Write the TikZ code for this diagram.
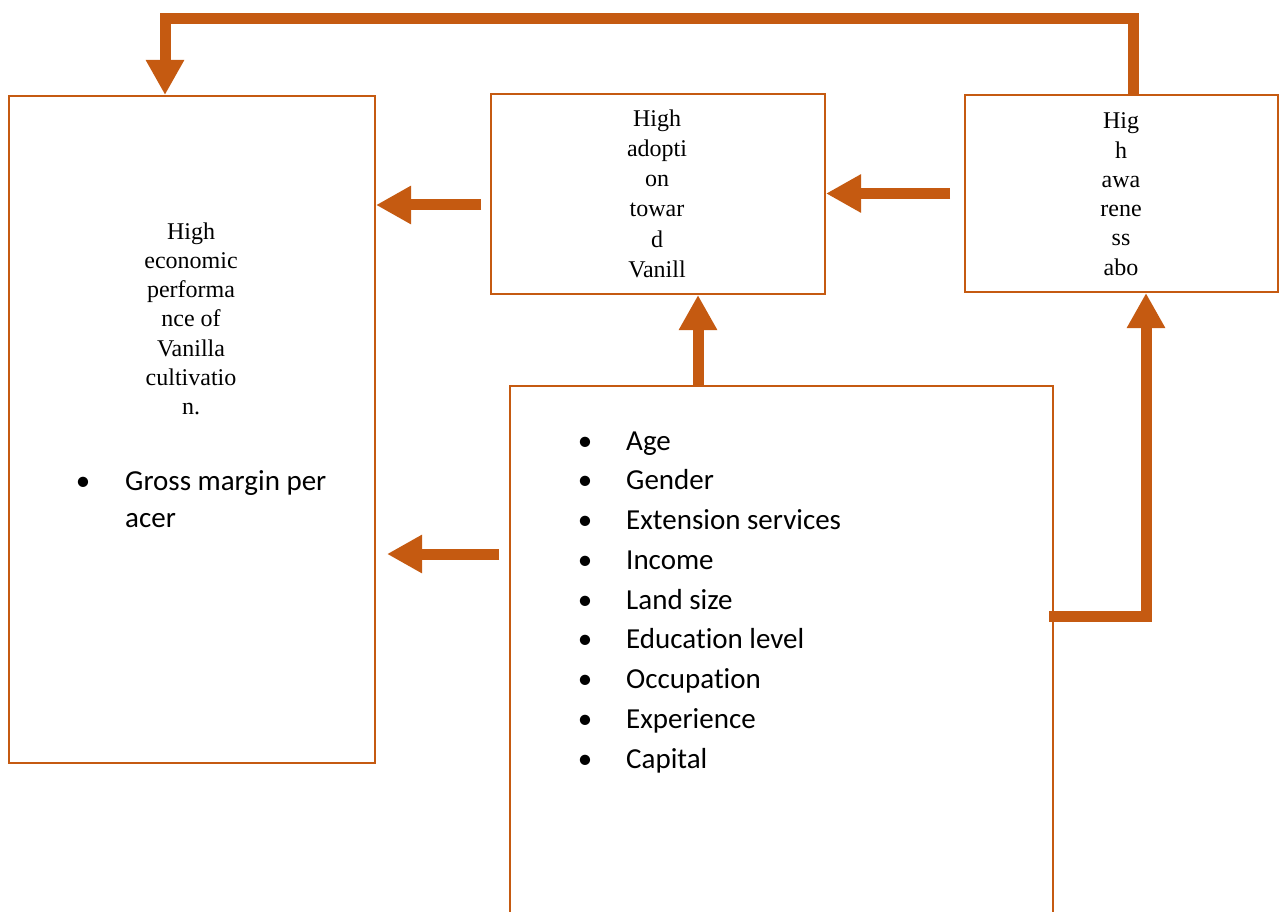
\documentclass[tikz,border=0pt]{standalone}
\usepackage{fontspec}
\setmainfont{Liberation Serif}
\newfontfamily\calfont[Ligatures={NoCommon}]{Carlito}
\usetikzlibrary{arrows.meta,calc}
\definecolor{rust}{HTML}{C55A11}
\tikzset{
  box/.style={draw=rust, line width=2pt, inner sep=0pt, anchor=north west},
  arr/.style={draw=rust, line width=11pt, line join=miter, -{Triangle[width=36pt,length=35pt]}},
  serif/.style={font=\fontsize{24}{29}\selectfont, inner sep=0pt, anchor=base},
  sans/.style={font=\calfont\fontsize{29}{39}\selectfont, inner sep=0pt, anchor=base west},
  bul/.style={font=\calfont\fontsize{29}{39}\selectfont, inner sep=0pt, anchor=base},
}
\begin{document}
\begin{tikzpicture}[x=1pt,y=-1pt]
\clip (0,0) rectangle (1279,912);
\fill[white] (0,0) rectangle (1279,912);
% boxes
\node[box, minimum width=366pt, minimum height=667pt] (econ) at (8,95) {};
\node[box, minimum width=334pt, minimum height=200pt] (adopt) at (490,93) {};
\node[box, minimum width=313pt, minimum height=197pt] (aware) at (964,94) {};
\node[box, minimum width=543pt, minimum height=600pt] (factors) at (509,385) {};
% texts
\foreach \t [count=\i from 0] in {High,economic,performa,nce of,Vanilla,cultivatio,n.}
  \node[serif] (et\i) at (191,{239+29.3*\i}) {\t};
\node[bul] (eb) at (83,490) {\textbullet};
\node[sans] (eg1) at (125,490) {Gross margin per};
\node[sans] (eg2) at (125,527) {acer};
\foreach \t [count=\i from 0] in {High,adopti,on,towar,d,Vanill}
  \node[serif] (at\i) at (657,{127+30*\i}) {\t};
\foreach \t [count=\i from 0] in {Hig,h,awa,rene,ss,abo}
  \node[serif] (wt\i) at (1121,{129+29.2*\i}) {\t};
\foreach \t [count=\i from 0] in {Age,Gender,Extension services,Income,Land size,Education level,Occupation,Experience,Capital}{
  \node[bul] (fb\i) at (585,{450+39.75*\i}) {\textbullet};
  \node[sans] (ft\i) at (626,{450+39.75*\i}) {\t};
}
% connector points
\coordinate (s1) at ($(adopt.west)+(-9,11)$);
\coordinate (s2) at ($(aware.west)+(-14,0)$);
\coordinate (s3) at ($(factors.north west)+(-10,169)$);
\coordinate (s4) at ($(factors.north west)+(189,0)$);
\coordinate (s5) at ($(factors.north east)+(-5,231)$);
\coordinate (t5) at ($(aware.south west)+(182,0)$);
\coordinate (s6) at ($(aware.north west)+(169,0)$);
\coordinate (t6) at ($(econ.north west)+(157,0)$);
% connectors
\draw[arr] (s1) -- (s1 -| econ.east);
\draw[arr] (s2) -- (s2 -| adopt.east);
\draw[arr] (s3) -- ($(s3 -| econ.east)+(11,0)$);
\draw[arr] (s4) -- (s4 |- adopt.south);
\draw[arr] (s5) -| (t5);
\draw[arr] (s6) -- ++(0,-75) -| (t6);
\end{tikzpicture}
\end{document}
